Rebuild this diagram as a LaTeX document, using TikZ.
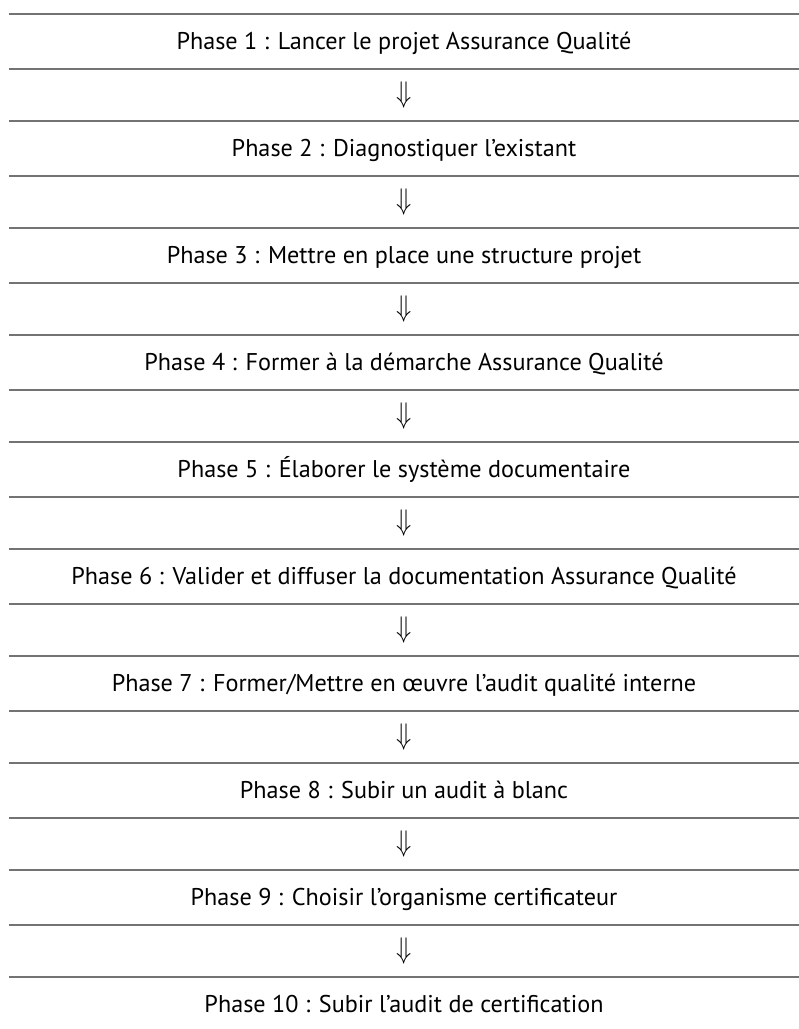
\documentclass[tikz,border=0pt]{standalone}
\usepackage{fontspec}
\setmainfont{PT Sans}
\usepackage{tikz}
\usetikzlibrary{positioning}
\usepackage{amssymb}
\usepackage{amsmath}

\begin{document}
\begin{tikzpicture}[
  x=1pt,y=1pt,
  phase/.style={inner sep=0pt,outer sep=0pt,minimum width=790pt,minimum height=55.3pt,
    text height=25pt,text depth=9pt,font=\fontsize{24.2}{28}\selectfont},
  down/.style={inner sep=0pt,outer sep=0pt,minimum width=790pt,minimum height=51.7pt},
  rule/.style={draw=black!55,line width=2pt}]
\useasboundingbox (0,0) rectangle (799,-1029);
\newcommand{\flecheBas}{\scalebox{1}[1.2]{\fontsize{27}{30}\selectfont$\Downarrow$}}
\node[phase,anchor=north] (p1) at (404,-14) {Phase 1 : Lancer le projet Assurance Qualité};
\node[down,below=0pt of p1] (a1) {\flecheBas};
\node[phase,below=0pt of a1] (p2) {Phase 2 : Diagnostiquer l’existant};
\node[down,below=0pt of p2] (a2) {\flecheBas};
\node[phase,below=0pt of a2] (p3) {Phase 3 : Mettre en place une structure projet};
\node[down,below=0pt of p3] (a3) {\flecheBas};
\node[phase,below=0pt of a3] (p4) {Phase 4 : Former à la démarche Assurance Qualité};
\node[down,below=0pt of p4] (a4) {\flecheBas};
\node[phase,below=0pt of a4] (p5) {Phase 5 : Élaborer le système documentaire};
\node[down,below=0pt of p5] (a5) {\flecheBas};
\node[phase,below=0pt of a5] (p6) {Phase 6 : Valider et diffuser la documentation Assurance Qualité};
\node[down,below=0pt of p6] (a6) {\flecheBas};
\node[phase,below=0pt of a6] (p7) {Phase 7 : Former/Mettre en œuvre l’audit qualité interne};
\node[down,below=0pt of p7] (a7) {\flecheBas};
\node[phase,below=0pt of a7] (p8) {Phase 8 : Subir un audit à blanc};
\node[down,below=0pt of p8] (a8) {\flecheBas};
\node[phase,below=0pt of a8] (p9) {Phase 9 : Choisir l’organisme certificateur};
\node[down,below=0pt of p9] (a9) {\flecheBas};
\node[phase,below=0pt of a9] (p10) {Phase 10 : Subir l’audit de certification};
% filets
\draw[rule] (p1.north west) -- (p1.north east);
\foreach \n in {p1,a1,p2,a2,p3,a3,p4,a4,p5,a5,p6,a6,p7,a7,p8,a8,p9,a9}
  \draw[rule] (\n.south west) -- (\n.south east);
\end{tikzpicture}
\end{document}
